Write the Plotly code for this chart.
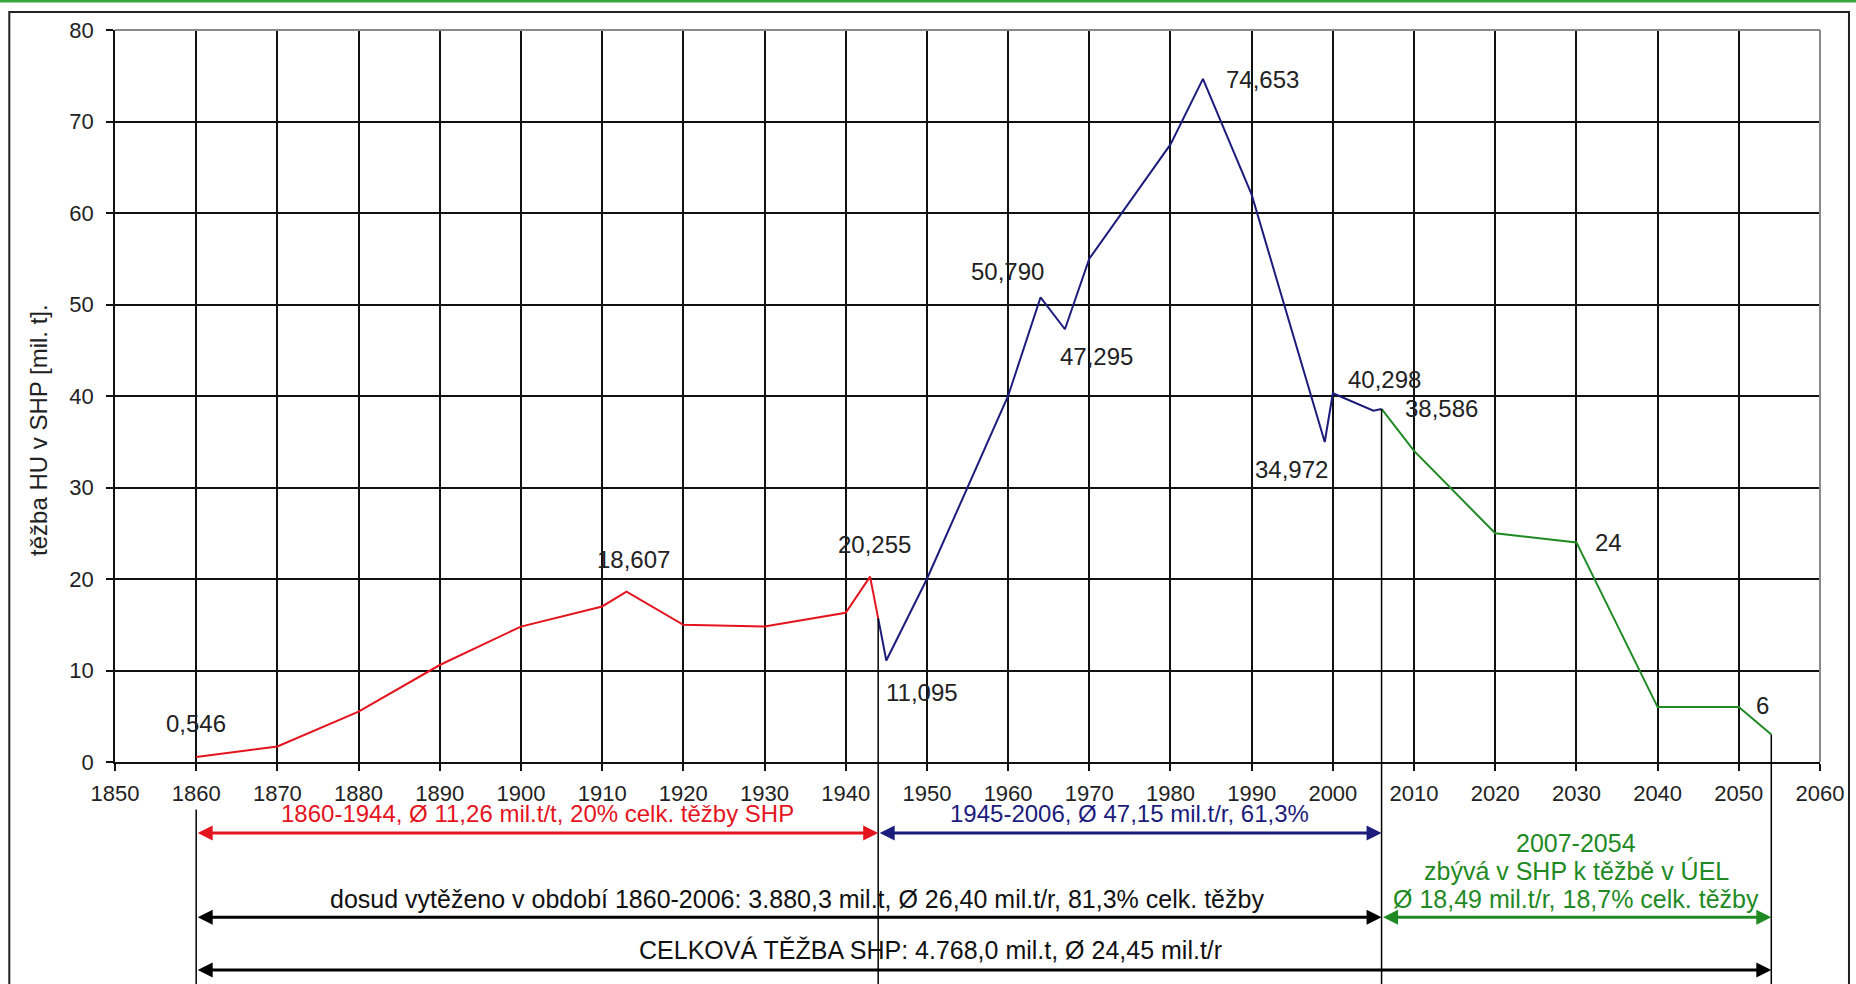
import plotly.graph_objects as go

# ---- data ----
red_years = [1860, 1870, 1880, 1890, 1900, 1910, 1913, 1920, 1930, 1940, 1943, 1944]
red_vals = [0.546, 1.7, 5.5, 10.6, 14.8, 17.0, 18.607, 15.0, 14.8, 16.3, 20.255, 15.7]

blue_years = [1944, 1945, 1950, 1960, 1964, 1967, 1970, 1980, 1984, 1990, 1999, 2000, 2005, 2006]
blue_vals = [15.7, 11.095, 20.0, 40.0, 50.79, 47.295, 55.0, 67.5, 74.653, 62.0, 34.972, 40.298, 38.4, 38.586]

green_years = [2006, 2010, 2020, 2030, 2040, 2050, 2054]
green_vals = [38.586, 34.0, 25.0, 24.0, 6.0, 6.0, 3.0]

# data labels: (year, value, text, xshift, yshift)
label_year = [1860, 1913, 1943, 1945, 1964, 1967, 1984, 1999, 2000, 2006, 2030, 2050]
label_val = [0.546, 18.607, 20.255, 11.095, 50.79, 47.295, 74.653, 34.972, 40.298, 38.586, 24.0, 6.0]
label_text = ["0,546", "18,607", "20,255", "11,095", "50,790", "47,295", "74,653",
              "34,972", "40,298", "38,586", "24", "6"]
label_dx = [0, 7, 4, 36, -33, 32, 60, -33, 52, 60, 32, 24]
label_dy = [34, 32, 32, -32, 26, -27, -1, -27, 14, 0, 0, 2]

# period markers (year, value at which the marker line starts)
marker_years = [1944, 2006, 2054]
marker_vals = [15.7, 38.586, 3.0]

x_ticks = list(range(1850, 2061, 10))
y_ticks = list(range(0, 81, 10))

RED = "#e4141e"
BLUE = "#1c1c7c"
GREEN = "#1f8a24"
FONT = "Liberation Sans, Arial, sans-serif"

fig = go.Figure()
fig.add_trace(go.Scatter(x=red_years, y=red_vals, mode="lines",
                         line=dict(color=RED, width=2), showlegend=False))
fig.add_trace(go.Scatter(x=blue_years, y=blue_vals, mode="lines",
                         line=dict(color=BLUE, width=2), showlegend=False))
fig.add_trace(go.Scatter(x=green_years, y=green_vals, mode="lines",
                         line=dict(color=GREEN, width=2), showlegend=False))

annotations = []
for yr, v, t, dx, dy in zip(label_year, label_val, label_text, label_dx, label_dy):
    annotations.append(dict(x=yr, y=v, xref="x", yref="y", text=t, showarrow=False,
                            xshift=dx, yshift=dy, xanchor="center", yanchor="middle",
                            font=dict(family=FONT, size=24, color="#222222")))

# y axis title
annotations.append(dict(x=-0.045, y=0.454, xref="paper", yref="paper",
                        xanchor="center", yanchor="middle",
                        text="těžba HU v SHP [mil. t].", textangle=-90, showarrow=False,
                        font=dict(family=FONT, size=24, color="#222222")))


def span_arrow(x0, x1, yp, color):
    return dict(x=x1, y=yp, ax=x0, ay=0, xref="x", yref="paper", axref="x", ayref="pixel",
                text="", showarrow=True, arrowhead=2, startarrowhead=2, arrowside="end+start",
                arrowsize=1, startarrowsize=1, arrowwidth=3, arrowcolor=color, standoff=0,
                startstandoff=0)


annotations += [
    span_arrow(1860, 1944, -0.097, RED),
    span_arrow(1944, 2006, -0.097, BLUE),
    span_arrow(1860, 2006, -0.212, "#000000"),
    span_arrow(2006, 2054, -0.212, GREEN),
    span_arrow(1860, 2054, -0.284, "#000000"),
]


def txt(x, yp, t, color, size=25):
    return dict(x=x, y=yp, xref="x", yref="paper", text=t, showarrow=False,
                xanchor="center", yanchor="middle",
                font=dict(family=FONT, size=size, color=color))


annotations += [
    txt(1902, -0.071, "1860-1944, Ø 11,26 mil.t/t, 20% celk. těžby SHP", RED, 24),
    txt(1975, -0.071, "1945-2006, Ø 47,15 mil.t/r, 61,3%", BLUE, 24),
    txt(1934, -0.187, "dosud vytěženo v období 1860-2006: 3.880,3 mil.t, Ø 26,40 mil.t/r, 81,3% celk. těžby", "#111111"),
    txt(2030, -0.111, "2007-2054", GREEN),
    txt(2030, -0.149, "zbývá v SHP k těžbě v ÚEL", GREEN),
    txt(2030, -0.187, "Ø 18,49 mil.t/r, 18,7% celk. těžby", GREEN),
    txt(1950.5, -0.257, "CELKOVÁ TĚŽBA SHP: 4.768,0 mil.t, Ø 24,45 mil.t/r", "#111111"),
]

shapes = []
# vertical period markers: inside plot from value to axis, then below the axis
for yr, v in zip(marker_years, marker_vals):
    shapes.append(dict(type="line", xref="x", yref="y", x0=yr, x1=yr, y0=0, y1=v,
                       line=dict(color="#000000", width=1.5)))
    shapes.append(dict(type="line", xref="x", yref="paper", x0=yr, x1=yr, y0=0, y1=-0.31,
                       line=dict(color="#000000", width=1.5)))
shapes.append(dict(type="line", xref="x", yref="paper", x0=1860, x1=1860, y0=-0.065, y1=-0.31,
                   line=dict(color="#000000", width=1.5)))
# top / right plot border (grey)
shapes.append(dict(type="line", xref="paper", yref="paper", x0=0, x1=1, y0=1, y1=1,
                   line=dict(color="#8a8a8a", width=2)))
shapes.append(dict(type="line", xref="paper", yref="paper", x0=1, x1=1, y0=0, y1=1,
                   line=dict(color="#8a8a8a", width=2)))
# outer chart frame
shapes.append(dict(type="rect", xref="paper", yref="paper", x0=-0.062, x1=1.017, y0=-0.4, y1=1.0246,
                   line=dict(color="#222222", width=2)))
# top green strip of the page
shapes.append(dict(type="line", xref="paper", yref="paper", x0=-0.08, x1=1.03, y0=1.0395, y1=1.0395,
                   line=dict(color="#3aa53a", width=3)))

fig.update_layout(
    width=1856, height=984,
    margin=dict(l=115, r=31, t=30, b=222),
    paper_bgcolor="white", plot_bgcolor="white",
    font=dict(family=FONT, size=22, color="#222222"),
    showlegend=False,
    annotations=annotations,
    shapes=shapes,
    xaxis=dict(range=[1850, 2060], tickvals=x_ticks, ticktext=[str(v) for v in x_ticks],
               showgrid=True, gridcolor="#111111", gridwidth=1.5,
               showline=True, linecolor="#111111", linewidth=1.5,
               ticks="outside", ticklen=7, tickcolor="#111111", tickwidth=1.5,
               zeroline=False, ticklabelstandoff=4,
               tickfont=dict(family=FONT, size=22, color="#222222")),
    yaxis=dict(range=[0, 80], tickvals=y_ticks,
               showgrid=True, gridcolor="#111111", gridwidth=1.5,
               showline=True, linecolor="#111111", linewidth=1.5,
               ticks="outside", ticklen=7, tickcolor="#111111", tickwidth=1.5,
               zeroline=False, ticklabelstandoff=8,
               tickfont=dict(family=FONT, size=22, color="#222222")),
)

fig.write_html("out.html", config={"displayModeBar": False},
               post_script="document.body.style.margin='0';document.body.style.overflow='hidden';")
